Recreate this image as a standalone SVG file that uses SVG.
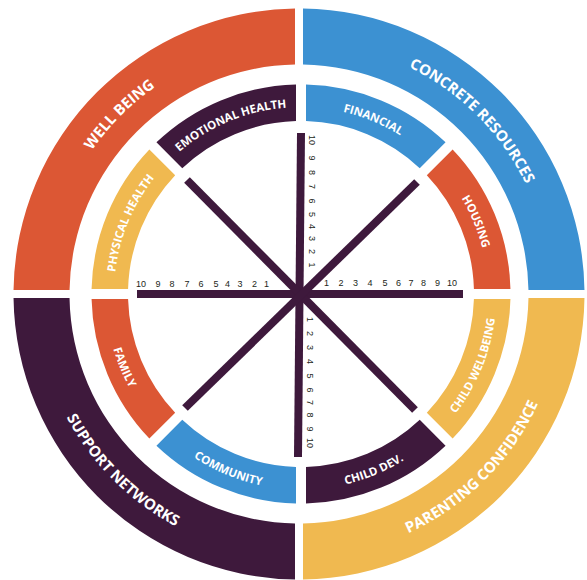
<svg xmlns="http://www.w3.org/2000/svg" width="587" height="580" viewBox="0 0 587 580">
<style>
.org{fill:#DC5734}.blu{fill:#3C91D2}.pur{fill:#3E193C}.yel{fill:#F0B950}
.lbl{font-family:"Open Sans","Liberation Sans",sans-serif;font-weight:700;fill:#fff}
.big{font-size:15px}
.sm{font-size:11.5px}
.tick{font-family:"Liberation Sans",Arial,sans-serif;font-size:9px;fill:#231F20;text-anchor:middle}
.spoke{stroke:#3E193C;stroke-width:8;stroke-linecap:butt;fill:none}
</style>
<defs>
<path id="pWB" d="M55.59,359.22 A252,252 0 0 1 364.22,50.59"/>
<path id="pCR" d="M233.78,50.59 A252,252 0 0 1 542.41,359.22"/>
<path id="pPC" d="M230.93,548.04 A263,263 0 0 0 553.04,225.93"/>
<path id="pSN" d="M44.96,225.93 A263,263 0 0 0 367.07,548.04"/>
<path id="pEH" d="M115.60,269.59 A187,187 0 0 1 414.84,145.64"/>
<path id="pFI" d="M187.16,145.64 A187,187 0 0 1 486.40,269.59"/>
<path id="pHO" d="M325.41,108.60 A187,187 0 0 1 449.36,407.84"/>
<path id="pPH" d="M152.64,407.84 A187,187 0 0 1 276.59,108.60"/>
<path id="pCW" d="M326.52,487.83 A195.5,195.5 0 0 0 456.10,174.99"/>
<path id="pCD" d="M181.99,449.10 A195.5,195.5 0 0 0 494.83,319.52"/>
<path id="pCO" d="M107.17,319.52 A195.5,195.5 0 0 0 420.01,449.10"/>
<path id="pFA" d="M145.90,174.99 A195.5,195.5 0 0 0 275.48,487.83"/>
</defs>

<g id="well-being">
<path class="org" d="M295,8.53 A285.5,285.5 0 0 0 13.53,290 L69.53,290 A229.5,229.5 0 0 1 295,64.53 Z"/>
<text class="lbl big"><textPath href="#pWB" startOffset="50%" text-anchor="middle">WELL BEING</textPath></text>
</g>
<g id="concrete-resources">
<path class="blu" d="M303,8.53 A285.5,285.5 0 0 1 584.47,290 L528.47,290 A229.5,229.5 0 0 0 303,64.53 Z"/>
<text class="lbl big"><textPath href="#pCR" startOffset="50%" text-anchor="middle">CONCRETE RESOURCES</textPath></text>
</g>
<g id="parenting-confidence">
<path class="yel" d="M584.47,298 A285.5,285.5 0 0 1 303,579.47 L303,523.47 A229.5,229.5 0 0 0 528.47,298 Z"/>
<text class="lbl big"><textPath href="#pPC" startOffset="50%" text-anchor="middle">PARENTING CONFIDENCE</textPath></text>
</g>
<g id="support-networks">
<path class="pur" d="M295,579.47 A285.5,285.5 0 0 1 13.53,298 L69.53,298 A229.5,229.5 0 0 0 295,523.47 Z"/>
<text class="lbl big"><textPath href="#pSN" startOffset="50%" text-anchor="middle">SUPPORT NETWORKS</textPath></text>
</g>

<g id="housing">
<path class="org" d="M510.443,289 A209.5,209.5 0 0 0 452.632,149.439 L426.814,175.257 A173,173 0 0 1 473.928,289 Z"/>
<text class="lbl sm"><textPath href="#pHO" startOffset="50%" text-anchor="middle">HOUSING</textPath></text>
</g>
<g id="financial">
<path class="blu" d="M445.561,142.368 A209.5,209.5 0 0 0 306,84.557 L306,121.072 A173,173 0 0 1 419.743,168.186 Z"/>
<text class="lbl sm"><textPath href="#pFI" startOffset="50%" text-anchor="middle">FINANCIAL</textPath></text>
</g>
<g id="emotional-health">
<path class="pur" d="M296,84.557 A209.5,209.5 0 0 0 156.439,142.368 L182.257,168.186 A173,173 0 0 1 296,121.072 Z"/>
<text class="lbl sm"><textPath href="#pEH" startOffset="50%" text-anchor="middle">EMOTIONAL HEALTH</textPath></text>
</g>
<g id="physical-health">
<path class="yel" d="M149.368,149.439 A209.5,209.5 0 0 0 91.557,289 L128.072,289 A173,173 0 0 1 175.186,175.257 Z"/>
<text class="lbl sm"><textPath href="#pPH" startOffset="50%" text-anchor="middle">PHYSICAL HEALTH</textPath></text>
</g>
<g id="family">
<path class="org" d="M91.557,299 A209.5,209.5 0 0 0 149.368,438.561 L175.186,412.743 A173,173 0 0 1 128.072,299 Z"/>
<text class="lbl sm"><textPath href="#pFA" startOffset="50%" text-anchor="middle">FAMILY</textPath></text>
</g>
<g id="community">
<path class="blu" d="M156.439,445.632 A209.5,209.5 0 0 0 296,503.443 L296,466.928 A173,173 0 0 1 182.257,419.814 Z"/>
<text class="lbl sm"><textPath href="#pCO" startOffset="50%" text-anchor="middle">COMMUNITY</textPath></text>
</g>
<g id="child-dev">
<path class="pur" d="M306,503.443 A209.5,209.5 0 0 0 445.561,445.632 L419.743,419.814 A173,173 0 0 1 306,466.928 Z"/>
<text class="lbl sm"><textPath href="#pCD" startOffset="50%" text-anchor="middle">CHILD DEV.</textPath></text>
</g>
<g id="child-wellbeing">
<path class="yel" d="M452.632,438.561 A209.5,209.5 0 0 0 510.443,299 L473.928,299 A173,173 0 0 1 426.814,412.743 Z"/>
<text class="lbl sm"><textPath href="#pCW" startOffset="50%" text-anchor="middle">CHILD WELLBEING</textPath></text>
</g>

<g id="connectors">
<line class="spoke" x1="137" y1="294" x2="463" y2="294"/>
<line class="spoke" x1="301" y1="133" x2="298" y2="457"/>
<line class="spoke" x1="187" y1="180" x2="415" y2="410"/>
<line class="spoke" x1="417" y1="182" x2="185" y2="408"/>
</g>

<g id="scale-left">
<text class="tick" x="141" y="287">10</text><text class="tick" x="158" y="287">9</text><text class="tick" x="172" y="287">8</text><text class="tick" x="187" y="287">7</text><text class="tick" x="201" y="287">6</text><text class="tick" x="216" y="287">5</text><text class="tick" x="227.5" y="287">4</text><text class="tick" x="240" y="287">3</text><text class="tick" x="254.5" y="287">2</text><text class="tick" x="266.5" y="287">1</text>
</g>
<g id="scale-right">
<text class="tick" x="326.5" y="286">1</text><text class="tick" x="341" y="286">2</text><text class="tick" x="355.5" y="286">3</text><text class="tick" x="370" y="286">4</text><text class="tick" x="385" y="286">5</text><text class="tick" x="398.5" y="286">6</text><text class="tick" x="411" y="286">7</text><text class="tick" x="423.5" y="286">8</text><text class="tick" x="437.5" y="286">9</text><text class="tick" x="452" y="286">10</text>
</g>
<g id="scale-top">
<text class="tick" transform="translate(308.5,140) rotate(90)">10</text><text class="tick" transform="translate(308.5,158) rotate(90)">9</text><text class="tick" transform="translate(308.5,172.5) rotate(90)">8</text><text class="tick" transform="translate(308.5,186.5) rotate(90)">7</text><text class="tick" transform="translate(308.5,201) rotate(90)">6</text><text class="tick" transform="translate(308.5,214.5) rotate(90)">5</text><text class="tick" transform="translate(308.5,226.5) rotate(90)">4</text><text class="tick" transform="translate(308.5,238.5) rotate(90)">3</text><text class="tick" transform="translate(308.5,251.5) rotate(90)">2</text><text class="tick" transform="translate(308.5,265) rotate(90)">1</text>
</g>
<g id="scale-bottom">
<text class="tick" transform="translate(306.5,319.5) rotate(90)">1</text><text class="tick" transform="translate(306.5,333.5) rotate(90)">2</text><text class="tick" transform="translate(306.5,347.5) rotate(90)">3</text><text class="tick" transform="translate(306.5,361.5) rotate(90)">4</text><text class="tick" transform="translate(306.5,376) rotate(90)">5</text><text class="tick" transform="translate(306.5,390) rotate(90)">6</text><text class="tick" transform="translate(306.5,402.5) rotate(90)">7</text><text class="tick" transform="translate(306.5,415) rotate(90)">8</text><text class="tick" transform="translate(306.5,429) rotate(90)">9</text><text class="tick" transform="translate(306.5,443) rotate(90)">10</text>
</g>
</svg>
